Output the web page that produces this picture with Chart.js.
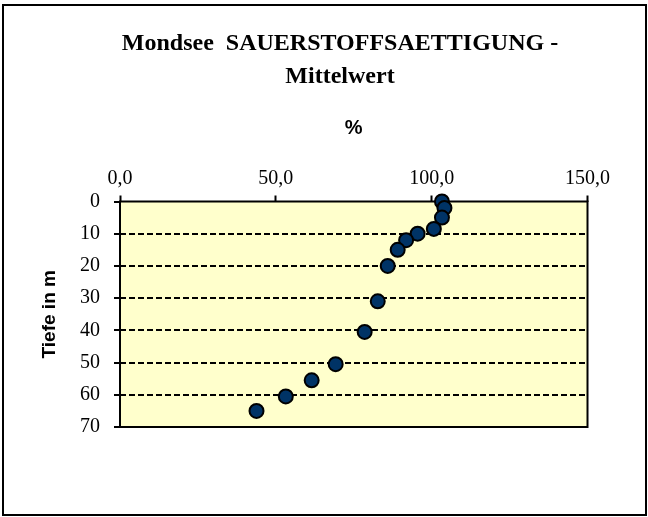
<!DOCTYPE html>
<html lang="de">
<head>
<meta charset="utf-8">
<title>Mondsee Sauerstoffsaettigung</title>
<script src="https://cdn.jsdelivr.net/npm/chart.js@4.4.1/dist/chart.umd.min.js"></script>
<style>
  html, body { margin: 0; padding: 0; background: #ffffff; }
  #wrap { width: 648px; height: 517px; }
</style>
</head>
<body>
<div id="wrap"><canvas id="o2Chart" width="648" height="517"></canvas></div>
<script>
// Messwerte (Mittelwert je Tiefe)
const tiefe = [0, 2, 5, 8.5, 10, 12, 15, 20, 31, 40.5, 50.5, 55.5, 60.5, 65];
const saettigung = [103.3, 104.1, 103.3, 100.7, 95.5, 91.8, 89.1, 85.9, 82.7, 78.5, 69.2, 61.5, 53.2, 43.8];

// Achsen
const xTicks = [0, 50, 100, 150];
const yTicks = [0, 10, 20, 30, 40, 50, 60, 70];

const titelZeilen = ['Mondsee  SAUERSTOFFSAETTIGUNG -', 'Mittelwert'];
const xTitel = '%';
const yTitel = 'Tiefe in m';

const SERIF = "'Liberation Serif', 'Times New Roman', serif";
const SANS = "'Liberation Sans', Arial, sans-serif";

// Hintergrund, Rahmen und Plotfläche
const framePlugin = {
  id: 'frame',
  beforeDraw(chart) {
    const { ctx, chartArea: a } = chart;
    ctx.save();
    ctx.fillStyle = '#ffffff';
    ctx.fillRect(0, 0, chart.width, chart.height);
    ctx.strokeStyle = '#000000';
    ctx.lineWidth = 2;
    ctx.strokeRect(3, 5, 643, 510);
    ctx.fillStyle = '#FFFFCC';
    ctx.fillRect(a.left, a.top, a.right - a.left, a.bottom - a.top);
    ctx.restore();
  },
  beforeDatasetsDraw(chart) {
    const { ctx, chartArea: a } = chart;
    ctx.save();
    ctx.strokeStyle = '#000000';
    ctx.lineWidth = 2;
    ctx.strokeRect(a.left, a.top, a.right - a.left, a.bottom - a.top);
    ctx.restore();
  }
};

const ctx = document.getElementById('o2Chart').getContext('2d');
const chart = new Chart(ctx, {
  type: 'scatter',
  data: {
    datasets: [{
      label: 'Sauerstoffsaettigung',
      data: saettigung.map((v, i) => ({ x: v, y: tiefe[i] })),
      backgroundColor: '#003366',
      borderColor: '#000000',
      borderWidth: 2,
      pointRadius: 7,
      pointHoverRadius: 7,
      showLine: false,
      clip: false,
      xAxisID: 'x',
      yAxisID: 'y'
    }]
  },
  options: {
    responsive: false,
    devicePixelRatio: 1,
    animation: false,
    layout: { padding: { left: 32, right: 0, top: 0, bottom: 90 } },
    plugins: {
      legend: { display: false },
      tooltip: { enabled: false },
      title: {
        display: true,
        text: titelZeilen,
        color: '#000000',
        font: { family: SERIF, size: 24, weight: 'bold', lineHeight: 1.375 },
        padding: { top: 27, bottom: 0 }
      }
    },
    scales: {
      x: {
        type: 'linear',
        position: 'top',
        min: 0,
        max: 150,
        afterBuildTicks: s => { s.ticks = xTicks.map(v => ({ value: v })); },
        afterFit: s => { s.height = 108.5; },
        ticks: {
          color: '#000000',
          font: { family: SERIF, size: 20 },
          padding: 5,
          maxRotation: 0,
          callback: v => v.toFixed(1).replace('.', ',')
        },
        grid: {
          drawOnChartArea: false,
          drawTicks: true,
          tickLength: 6,
          tickColor: '#000000',
          tickWidth: 2
        },
        border: { display: false },
        title: {
          display: true,
          text: xTitel,
          color: '#000000',
          font: { family: SANS, size: 20, weight: 'bold' },
          padding: { top: 23, bottom: 0 }
        }
      },
      y: {
        type: 'linear',
        position: 'left',
        reverse: true,
        min: 0,
        max: 70,
        afterBuildTicks: s => { s.ticks = yTicks.map(v => ({ value: v })); },
        afterFit: s => { s.width = 88; },
        ticks: {
          color: '#000000',
          font: { family: SERIF, size: 20 },
          padding: 14
        },
        grid: {
          color: c => (c.tick && (c.tick.value === 0 || c.tick.value === 70)) ? 'rgba(0,0,0,0)' : '#000000',
          lineWidth: 2,
          drawTicks: true,
          tickLength: 6,
          tickColor: '#000000',
          tickWidth: 2
        },
        border: { display: false, dash: [6, 3] },
        title: {
          display: true,
          text: yTitel,
          color: '#000000',
          font: { family: SANS, size: 19, weight: 'bold' },
          padding: { top: 6, bottom: 0 }
        }
      },
      // Platzhalter rechts, damit die Plotfläche bei x=587 endet
      yr: {
        type: 'linear',
        position: 'right',
        display: true,
        afterFit: s => { s.width = 60.5; },
        ticks: { display: false },
        grid: { display: false },
        border: { display: false }
      }
    }
  },
  plugins: [framePlugin]
});
</script>
</body>
</html>
